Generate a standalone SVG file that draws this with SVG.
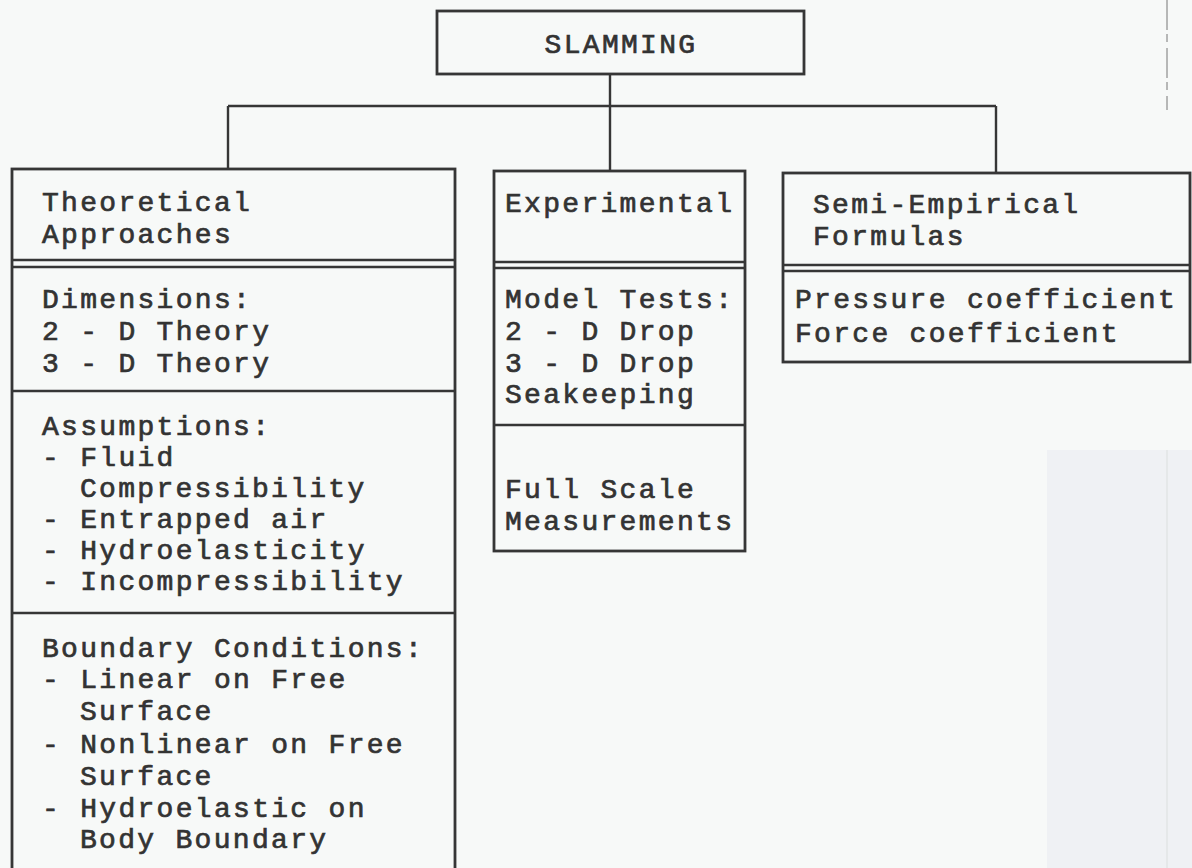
<svg xmlns="http://www.w3.org/2000/svg" width="1192" height="868" viewBox="0 0 1192 868">
<style>
.bg{fill:#f7f9f8}
.box{fill:none;stroke:#363636;stroke-width:2.8}
.div{fill:none;stroke:#363636;stroke-width:2.4}
.con{fill:none;stroke:#363636;stroke-width:2.4}
text{font-family:"Liberation Mono","Courier New",monospace;font-size:28px;letter-spacing:2.3px;fill:#333;stroke:#333;stroke-width:0.7}
</style>
<rect class="bg" x="0" y="0" width="1192" height="868"/>
<rect x="1047" y="450" width="145" height="418" fill="#eff1f4"/>
<line x1="1167" y1="450" x2="1167" y2="868" stroke="#e2e4e6" stroke-width="1.5"/>
<line x1="1167" y1="0" x2="1167" y2="110" stroke="#777" stroke-width="1" stroke-dasharray="30 4 8 6"/>
<g id="connectors">
<line class="con" x1="610" y1="74" x2="610" y2="171"/>
<line class="con" x1="228" y1="106" x2="996" y2="106"/>
<line class="con" x1="228" y1="106" x2="228" y2="169"/>
<line class="con" x1="996" y1="106" x2="996" y2="173"/>
</g>
<g id="slamming">
<rect class="box" x="437" y="11" width="367" height="63"/>
<text x="621" y="53" text-anchor="middle">SLAMMING</text>
</g>
<g id="theoretical">
<rect class="box" x="12" y="169" width="443" height="720"/>
<line class="div" x1="12" y1="260" x2="455" y2="260"/>
<line class="div" x1="12" y1="267" x2="455" y2="267"/>
<line class="div" x1="12" y1="391" x2="455" y2="391"/>
<line class="div" x1="12" y1="613" x2="455" y2="613"/>
<text x="42" y="211">Theoretical</text>
<text x="42" y="243">Approaches</text>
<text x="42" y="308">Dimensions:</text>
<text x="42" y="340">2 - D Theory</text>
<text x="42" y="372">3 - D Theory</text>
<text x="42" y="435">Assumptions:</text>
<text x="42" y="466">- Fluid</text>
<text x="80" y="497">Compressibility</text>
<text x="42" y="528">- Entrapped air</text>
<text x="42" y="559">- Hydroelasticity</text>
<text x="42" y="590">- Incompressibility</text>
<text x="42" y="657">Boundary Conditions:</text>
<text x="42" y="688">- Linear on Free</text>
<text x="80" y="720">Surface</text>
<text x="42" y="753">- Nonlinear on Free</text>
<text x="80" y="785">Surface</text>
<text x="42" y="817">- Hydroelastic on</text>
<text x="80" y="848">Body Boundary</text>
</g>
<g id="experimental">
<rect class="box" x="494" y="171" width="251" height="380"/>
<line class="div" x1="494" y1="262" x2="745" y2="262"/>
<line class="div" x1="494" y1="268" x2="745" y2="268"/>
<line class="div" x1="494" y1="425" x2="745" y2="425"/>
<text x="505" y="212">Experimental</text>
<text x="505" y="308">Model Tests:</text>
<text x="505" y="340">2 - D Drop</text>
<text x="505" y="372">3 - D Drop</text>
<text x="505" y="403">Seakeeping</text>
<text x="505" y="498">Full Scale</text>
<text x="505" y="530">Measurements</text>
</g>
<g id="semi-empirical">
<rect class="box" x="783" y="173" width="407" height="189"/>
<line class="div" x1="783" y1="265" x2="1190" y2="265"/>
<line class="div" x1="783" y1="271" x2="1190" y2="271"/>
<text x="813" y="213">Semi-Empirical</text>
<text x="813" y="245">Formulas</text>
<text x="795" y="308">Pressure coefficient</text>
<text x="795" y="342">Force coefficient</text>
</g>
</svg>
